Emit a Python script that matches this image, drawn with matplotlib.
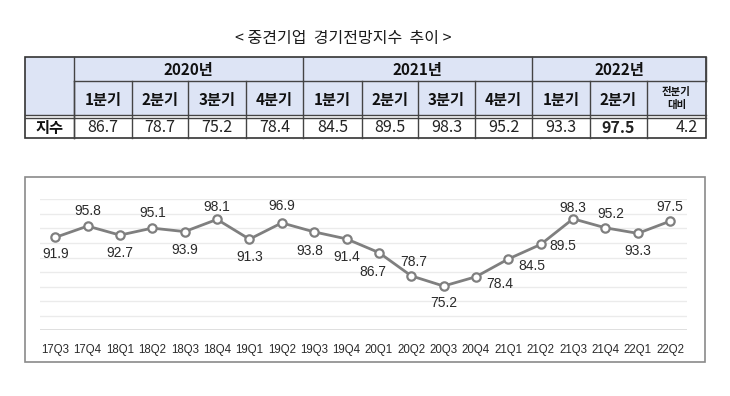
import matplotlib.pyplot as plt
from matplotlib.patches import Rectangle

# chart data
quarters = ["17Q3", "17Q4", "18Q1", "18Q2", "18Q3", "18Q4", "19Q1", "19Q2", "19Q3", "19Q4",
            "20Q1", "20Q2", "20Q3", "20Q4", "21Q1", "21Q2", "21Q3", "21Q4", "22Q1", "22Q2"]
index_values = [91.9, 95.8, 92.7, 95.1, 93.9, 98.1, 91.3, 96.9, 93.8, 91.4,
                86.7, 78.7, 75.2, 78.4, 84.5, 89.5, 98.3, 95.2, 93.3, 97.5]

# table data
years = ["2020년", "2021년", "2022년"]
year_spans = [4, 4, 3]
table_heads = ["1분기", "2분기", "3분기", "4분기", "1분기", "2분기", "3분기", "4분기",
               "1분기", "2분기", "전분기\n대비"]
table_values = index_values[-10:] + [round(index_values[-1] - index_values[-2], 1)]
row_label = "지수"
title = "< 중견기업  경기전망지수  추이 >"

# label placement offsets (points) for each data label
label_offsets = [(0, -12), (0, 11), (0, -13), (0, 11), (0, -13), (0, 9), (0, -13), (0, 12),
                 (-3, -14), (0, -13), (-4, -14), (2, 10), (0, -12), (17, -5), (17, -5),
                 (16, -1), (0, 8), (4, 10), (0, -13), (0, 10)]

KR = ["Noto Sans CJK KR", "DejaVu Sans"]
W, H = 730, 396
fig = plt.figure(figsize=(W / 100, H / 100), dpi=100)

# background layer in pixel coordinates
bg = fig.add_axes([0, 0, 1, 1])
bg.set_xlim(0, W)
bg.set_ylim(H, 0)
bg.axis("off")

bg.text(343, 38, title, ha="center", va="center", fontsize=11.5, family=KR, color="#1a1a1a")

col_edges = [25, 74, 132, 188, 246, 303, 362, 418, 475, 532, 590, 647, 706]
y_top, y_mid, y_head, y_bot = 57, 81, 116, 138
head_fill = "#dde4f5"
line_c = "#444444"

bg.add_patch(Rectangle((col_edges[0], y_top), col_edges[-1] - col_edges[0], y_head - y_top,
                       facecolor=head_fill, edgecolor="none"))
# year row
start = 1
for year, span in zip(years, year_spans):
    x0, x1 = col_edges[start], col_edges[start + span]
    bg.text((x0 + x1) / 2, (y_top + y_mid) / 2 + 1, year, ha="center", va="center",
            fontsize=11, fontweight="bold", family=KR, color="#111111")
    bg.plot([x1, x1], [y_top, y_mid], color=line_c, lw=1)
    start += span
bg.plot([col_edges[1], col_edges[-1]], [y_mid, y_mid], color=line_c, lw=1)
# quarter row and values
for i, (head, val) in enumerate(zip(table_heads, table_values)):
    x0, x1 = col_edges[i + 1], col_edges[i + 2]
    if "\n" in head:
        bg.text((x0 + x1) / 2, (y_mid + y_head) / 2, head, ha="center", va="center",
                fontsize=7.5, fontweight="bold", family=KR, color="#111111", linespacing=1.3)
    else:
        bg.text((x0 + x1) / 2, (y_mid + y_head) / 2 + 1, head, ha="center", va="center",
                fontsize=11, fontweight="bold", family=KR, color="#111111")
    last = i == len(table_heads) - 1
    bold = i == len(table_heads) - 2
    bg.text(x1 - 8 if last else (x0 + x1) / 2, (y_head + y_bot) / 2 + 1, f"{val:.1f}",
            ha="right" if last else "center", va="center", fontsize=11.5, family=KR,
            fontweight="bold" if bold else "normal", color="#222222")
    bg.plot([x0, x0], [y_mid, y_bot], color=line_c, lw=1)
bg.plot([col_edges[1], col_edges[1]], [y_top, y_bot], color=line_c, lw=1)
bg.text((col_edges[0] + col_edges[1]) / 2, (y_head + y_bot) / 2 + 1, row_label,
        ha="center", va="center", fontsize=11, fontweight="bold", family=KR, color="#111111")
bg.plot([col_edges[0], col_edges[-1]], [y_head - 1.5, y_head - 1.5], color=line_c, lw=1)
bg.plot([col_edges[0], col_edges[-1]], [y_head + 1.5, y_head + 1.5], color=line_c, lw=1)
bg.add_patch(Rectangle((col_edges[0], y_top), col_edges[-1] - col_edges[0], y_bot - y_top,
                       facecolor="none", edgecolor="#333333", lw=1.2))

# chart frame
bg.add_patch(Rectangle((25, 177), 680, 185, facecolor="white", edgecolor="#8a8a8a", lw=1.2))

# line chart
ax = fig.add_axes([40 / W, 1 - 330.3 / H, (687 - 40) / W, (330.3 - 199.3) / H])
ax.set_facecolor("none")
x = list(range(len(quarters)))
ax.set_xlim(-0.47, 19.52)
ax.set_ylim(60, 105)
ax.set_yticks(range(60, 106, 5))
for yv in range(65, 106, 5):
    ax.axhline(yv, color="#ebebeb", lw=1, zorder=0)
ax.axhline(60, color="#d9d9d9", lw=1.2, zorder=0)
ax.plot(x, index_values, color="#7f7f7f", lw=2, marker="o", markersize=6,
        markerfacecolor="white", markeredgecolor="#7f7f7f", markeredgewidth=1.6, zorder=3)
for xi, v, (dx, dy) in zip(x, index_values, label_offsets):
    ax.annotate(f"{v:.1f}", (xi, v), xytext=(dx, dy), textcoords="offset points",
                ha="center", va="center", fontsize=10, family="Liberation Sans",
                color="#2a2a2a")
ax.set_xticks(x)
ax.set_xticklabels(quarters, fontsize=8.3, family="Liberation Sans", color="#2a2a2a")
ax.tick_params(axis="x", length=0, pad=10)
ax.tick_params(axis="y", left=False, labelleft=False)
for s in ax.spines.values():
    s.set_visible(False)

fig.savefig("out.png", dpi=100)
